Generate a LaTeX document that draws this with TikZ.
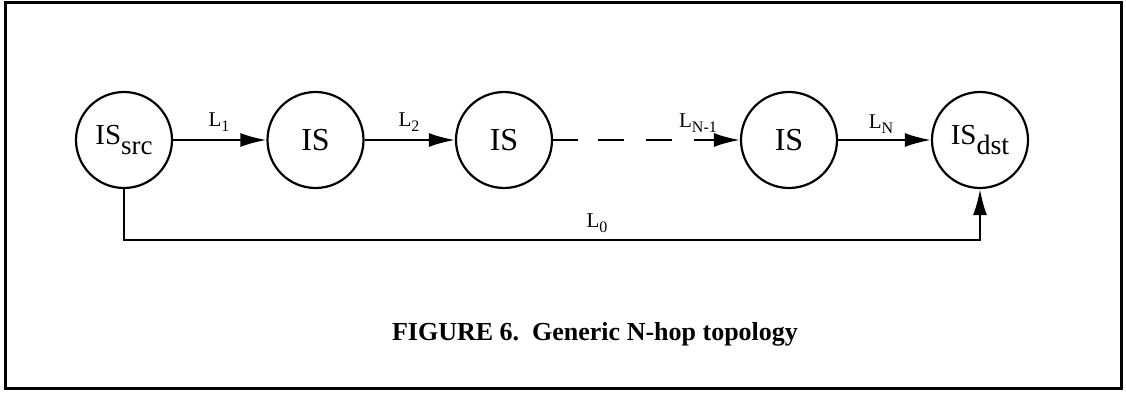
\documentclass[tikz,border=0pt]{standalone}
\usepackage{fontspec}
\setmainfont{Liberation Serif}
\usetikzlibrary{arrows.meta}
\newcommand{\mysub}[2][0.33em]{\raisebox{-#1}{#2}}
\begin{document}
\begin{tikzpicture}[x=1pt,y=-1pt,
  isnode/.style={circle,draw,line width=2.2pt,minimum size=96pt,inner sep=0pt,
    font=\fontsize{32}{36}\selectfont},
  endnode/.style={isnode,font=\fontsize{29}{32}\selectfont},
  lab/.style={inner sep=0pt,font=\fontsize{21}{24}\selectfont},
  arr/.style={line width=2.2pt,-{Latex[length=26pt,width=14pt]}},
  capt/.style={inner sep=0pt,font=\fontsize{26}{30}\selectfont\bfseries}]
\useasboundingbox (0,0) rectangle (1126,394);
\draw[line width=3pt] (5,2) rectangle (1121,388);
\node[endnode] (src) at (124,140) {IS\mysub{\fontsize{27}{30}\selectfont src}\hspace{-15pt}};
\node[isnode] (is1) at (315.5,140) {IS};
\node[isnode] (is2) at (504,140) {IS};
\node[isnode] (is3) at (789,140) {IS};
\node[endnode] (dst) at (980,140) {IS\mysub{\fontsize{28}{30}\selectfont dst}\hspace{-14pt}};
\draw[arr] (src) -- (is1);
\draw[arr] (is1) -- (is2);
\draw[arr,dash pattern=on 25pt off 20pt on 26pt off 22pt on 26pt off 22pt on 300pt off 0pt] (is2) -- (is3);
\draw[arr] (is3) -- (dst);
\draw[arr] (src.south) -- ++(0,51) -| (dst.south);
\node[lab] (l1) at (219,122) {L\mysub[0.25em]{\fontsize{16}{18}\selectfont 1}};
\node[lab] (l2) at (409,122) {L\mysub[0.25em]{\fontsize{16}{18}\selectfont 2}};
\node[lab] (ln1) at (698,123) {L\mysub[0.25em]{\fontsize{16}{18}\selectfont N-1}};
\node[lab] (ln) at (881,124) {L\mysub[0.25em]{\fontsize{16}{18}\selectfont N}};
\node[lab] (l0) at (597,223) {L\mysub[0.25em]{\fontsize{16}{18}\selectfont 0}};
\node[capt] (cap) at (595,334) {FIGURE 6.~~Generic N-hop topology};
\end{tikzpicture}
\end{document}
